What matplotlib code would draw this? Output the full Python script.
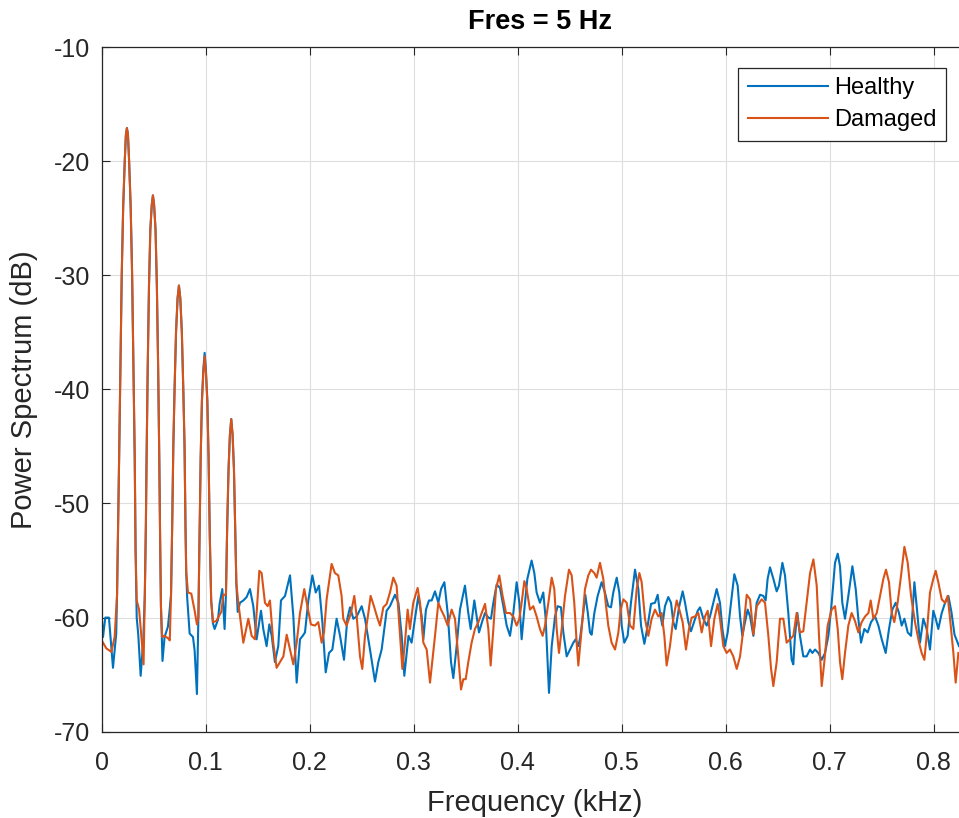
import matplotlib
matplotlib.use("Agg")
import matplotlib.pyplot as plt

plt.rcParams['font.family'] = ['Liberation Sans', 'DejaVu Sans']
plt.rcParams['axes.unicode_minus'] = False

# Healthy spectrum (kHz, dB)
healthy_khz = [
    0.0000, 0.0013, 0.0035, 0.0070, 0.0109, 0.0140,
    0.0148, 0.0158, 0.0168, 0.0180, 0.0193, 0.0207, 0.0222, 0.0233, 0.0243, 0.0253, 0.0264, 0.0279,
    0.0293, 0.0306, 0.0318, 0.0326,
    0.0337, 0.0352, 0.0375, 0.0400,
    0.0415, 0.0425, 0.0432, 0.0443, 0.0455, 0.0468, 0.0482, 0.0493, 0.0504, 0.0518, 0.0531, 0.0543,
    0.0554, 0.0562, 0.0570,
    0.0585, 0.0605, 0.0637, 0.0654,
    0.0667, 0.0678, 0.0689, 0.0701, 0.0715, 0.0730, 0.0743, 0.0756, 0.0771, 0.0785, 0.0797, 0.0806, 0.0813,
    0.0822, 0.0846, 0.0878, 0.0894, 0.0916,
    0.0930, 0.0941, 0.0952, 0.0964, 0.0978, 0.0990, 0.1002, 0.1016, 0.1028, 0.1040, 0.1053,
    0.1070, 0.1086, 0.1118, 0.1134, 0.1160, 0.1182,
    0.1195, 0.1207, 0.1220, 0.1233, 0.1246, 0.1259, 0.1272, 0.1284, 0.1295,
    0.1308, 0.1330, 0.1362, 0.1394, 0.1426, 0.1458, 0.1490, 0.1532, 0.1554, 0.1586,
    0.1612, 0.1635, 0.1666, 0.1698, 0.1724, 0.1763, 0.1811, 0.1843, 0.1875, 0.1907,
    0.1933, 0.1955, 0.1987, 0.2026, 0.2058, 0.2090, 0.2122, 0.2154, 0.2186, 0.2218,
    0.2259, 0.2292, 0.2330, 0.2362, 0.2388, 0.2420, 0.2452, 0.2500, 0.2532, 0.2580,
    0.2628, 0.2660, 0.2692, 0.2740, 0.2772, 0.2820, 0.2853, 0.2885, 0.2910, 0.2950,
    0.2980, 0.3012, 0.3045, 0.3077, 0.3093, 0.3118, 0.3147, 0.3173, 0.3205, 0.3237,
    0.3263, 0.3295, 0.3327, 0.3359, 0.3381, 0.3413, 0.3445, 0.3493, 0.3525, 0.3548,
    0.3583, 0.3605, 0.3628, 0.3660, 0.3686, 0.3718, 0.3743, 0.3766, 0.3798, 0.3830,
    0.3862, 0.3894, 0.3926, 0.3958, 0.3990, 0.4016, 0.4038, 0.4070, 0.4093, 0.4134,
    0.4160, 0.4182, 0.4214, 0.4246, 0.4269, 0.4301, 0.4327, 0.4359, 0.4384, 0.4416,
    0.4439, 0.4471, 0.4503, 0.4535, 0.4557, 0.4583, 0.4600, 0.4625, 0.4650, 0.4673,
    0.4695, 0.4711, 0.4737, 0.4769, 0.4807, 0.4839, 0.4871, 0.4897, 0.4919, 0.4952,
    0.4977, 0.5000, 0.5025, 0.5057, 0.5089, 0.5128, 0.5160, 0.5186, 0.5218, 0.5250,
    0.5282, 0.5320, 0.5346, 0.5368, 0.5391, 0.5416, 0.5448, 0.5474, 0.5496, 0.5519,
    0.5551, 0.5586, 0.5609, 0.5641, 0.5666, 0.5698, 0.5731, 0.5753, 0.5785, 0.5817,
    0.5849, 0.5881, 0.5913, 0.5945, 0.5968, 0.5993, 0.6019, 0.6051, 0.6083, 0.6115,
    0.6138, 0.6160, 0.6179, 0.6211, 0.6234, 0.6266, 0.6298, 0.6330, 0.6362, 0.6384,
    0.6403, 0.6426, 0.6458, 0.6490, 0.6512, 0.6545, 0.6570, 0.6602, 0.6634, 0.6650,
    0.6666, 0.6689, 0.6714, 0.6746, 0.6778, 0.6811, 0.6833, 0.6859, 0.6891, 0.6923,
    0.6955, 0.6987, 0.7019, 0.7051, 0.7077, 0.7099, 0.7121, 0.7147, 0.7179, 0.7218,
    0.7250, 0.7275, 0.7301, 0.7333, 0.7365, 0.7397, 0.7436, 0.7468, 0.7500, 0.7538,
    0.7570, 0.7602, 0.7634, 0.7666, 0.7692, 0.7718, 0.7750, 0.7782, 0.7814, 0.7836,
    0.7868, 0.7900, 0.7932, 0.7964, 0.7996, 0.8019, 0.8044, 0.8077, 0.8109, 0.8141,
    0.8170, 0.8200, 0.8243,
]
healthy_db = [
    -59.8, -61.7, -60.0, -60.0, -64.4, -61.4,
    -58.0, -52.0, -46.0, -38.0, -30.0, -24.0, -20.0, -17.7, -17.1, -17.7, -20.0, -24.0,
    -30.0, -38.0, -46.0, -54.0,
    -60.0, -61.5, -65.1, -62.0,
    -58.0, -52.0, -46.0, -38.0, -31.0, -26.0, -23.8, -23.0, -23.8, -26.0, -31.0, -38.0,
    -46.0, -53.0, -59.0,
    -63.8, -61.7, -60.8, -59.3,
    -58.0, -52.0, -45.0, -40.0, -35.0, -32.0, -30.9, -32.0, -35.0, -40.0, -45.0, -52.0, -56.0,
    -58.2, -61.4, -61.7, -62.9, -66.7,
    -60.0, -53.0, -46.0, -41.0, -38.2, -36.8, -38.2, -41.0, -46.0, -53.0, -58.5,
    -60.5, -61.0, -60.2, -58.8, -57.5, -61.0,
    -58.0, -52.0, -47.0, -44.0, -42.6, -44.0, -47.0, -52.0, -57.0,
    -59.5, -58.7, -58.5, -58.2, -57.5, -59.0, -61.9, -59.4, -61.0, -62.5,
    -60.6, -61.6, -63.9, -62.5, -58.5, -58.1, -56.3, -59.9, -65.7, -61.9,
    -61.6, -61.3, -58.5, -56.3, -57.8, -57.2, -60.4, -64.8, -63.1, -62.8,
    -60.1, -61.6, -63.7, -60.1, -59.1, -60.1, -59.9, -59.0, -60.1, -62.8,
    -65.6, -63.9, -62.8, -59.4, -59.0, -58.0, -58.7, -61.6, -65.1, -61.6,
    -62.2, -60.1, -58.1, -59.9, -61.9, -59.3, -58.5, -58.5, -57.7, -58.7,
    -57.5, -56.9, -59.6, -63.9, -65.3, -62.5, -59.3, -57.2, -59.6, -61.0,
    -58.5, -59.9, -61.3, -60.3, -59.6, -60.0, -60.1, -58.7, -57.1, -57.4,
    -59.0, -60.7, -61.6, -59.6, -56.9, -58.7, -61.9, -58.7, -56.6, -55.0,
    -56.1, -57.8, -58.7, -57.8, -60.1, -66.6, -62.5, -59.9, -59.0, -59.1,
    -61.3, -63.4, -62.8, -62.2, -61.9, -62.5, -61.8, -60.0, -58.0, -59.5,
    -61.3, -61.5, -59.6, -58.1, -56.9, -57.8, -59.0, -59.1, -57.8, -56.5,
    -57.8, -60.7, -62.2, -61.6, -58.7, -55.8, -57.5, -60.7, -62.3, -60.7,
    -58.8, -58.7, -58.0, -59.6, -60.7, -59.0, -58.2, -58.7, -60.4, -61.0,
    -59.1, -57.7, -58.7, -60.4, -61.2, -60.3, -59.4, -59.1, -60.1, -60.7,
    -59.9, -58.7, -57.5, -58.7, -61.0, -62.5, -61.3, -58.7, -56.2, -57.2,
    -59.9, -61.6, -60.7, -59.3, -59.9, -61.6, -58.7, -58.0, -58.1, -58.5,
    -56.6, -55.6, -56.6, -57.7, -57.2, -55.2, -56.3, -59.6, -63.7, -64.1,
    -61.6, -59.6, -61.6, -63.4, -63.4, -62.8, -63.1, -62.8, -63.1, -63.7,
    -63.1, -61.6, -58.7, -55.2, -54.4, -55.5, -58.7, -60.1, -58.1, -55.5,
    -57.5, -60.1, -62.2, -61.0, -61.3, -60.4, -59.9, -60.7, -61.9, -63.1,
    -61.0, -59.3, -58.7, -59.6, -60.7, -60.1, -61.3, -61.6, -56.9, -59.0,
    -62.2, -60.1, -61.0, -62.8, -59.4, -60.1, -61.0, -59.6, -58.7, -58.1,
    -59.5, -61.5, -62.5,
]

# Damaged spectrum (kHz, dB)
damaged_khz = [
    0.0000, 0.0045, 0.0093, 0.0125,
    0.0148, 0.0158, 0.0168, 0.0180, 0.0193, 0.0207, 0.0222, 0.0233, 0.0243, 0.0253, 0.0264, 0.0279,
    0.0293, 0.0306, 0.0318, 0.0326,
    0.0337, 0.0360, 0.0385, 0.0403,
    0.0415, 0.0425, 0.0432, 0.0443, 0.0455, 0.0468, 0.0482, 0.0493, 0.0504, 0.0518, 0.0531, 0.0543,
    0.0554, 0.0562, 0.0570,
    0.0582, 0.0600, 0.0637, 0.0655,
    0.0667, 0.0678, 0.0689, 0.0701, 0.0715, 0.0730, 0.0743, 0.0756, 0.0771, 0.0785, 0.0797, 0.0806, 0.0813,
    0.0830, 0.0862, 0.0894, 0.0916,
    0.0930, 0.0941, 0.0952, 0.0964, 0.0978, 0.0990, 0.1002, 0.1016, 0.1028, 0.1040, 0.1053,
    0.1070, 0.1102, 0.1150, 0.1170,
    0.1195, 0.1207, 0.1220, 0.1233, 0.1246, 0.1259, 0.1272, 0.1284, 0.1295,
    0.1314, 0.1362, 0.1410, 0.1442, 0.1474, 0.1516, 0.1538, 0.1570, 0.1596, 0.1618,
    0.1650, 0.1682, 0.1714, 0.1747, 0.1779, 0.1811, 0.1843, 0.1875, 0.1907, 0.1948,
    0.1980, 0.2012, 0.2051, 0.2083, 0.2115, 0.2138, 0.2163, 0.2211, 0.2243, 0.2275,
    0.2307, 0.2323, 0.2355, 0.2397, 0.2429, 0.2452, 0.2484, 0.2506, 0.2532, 0.2564,
    0.2586, 0.2618, 0.2650, 0.2676, 0.2708, 0.2740, 0.2772, 0.2804, 0.2836, 0.2858,
    0.2891, 0.2916, 0.2942, 0.2964, 0.2996, 0.3038, 0.3061, 0.3093, 0.3125, 0.3157,
    0.3205, 0.3237, 0.3263, 0.3295, 0.3327, 0.3365, 0.3397, 0.3429, 0.3455, 0.3477,
    0.3500, 0.3525, 0.3557, 0.3589, 0.3622, 0.3654, 0.3686, 0.3718, 0.3740, 0.3766,
    0.3791, 0.3823, 0.3855, 0.3888, 0.3926, 0.3958, 0.3990, 0.4016, 0.4038, 0.4064,
    0.4086, 0.4118, 0.4150, 0.4182, 0.4214, 0.4240, 0.4263, 0.4295, 0.4327, 0.4352,
    0.4375, 0.4397, 0.4423, 0.4455, 0.4493, 0.4519, 0.4544, 0.4567, 0.4583, 0.4615,
    0.4647, 0.4679, 0.4705, 0.4737, 0.4759, 0.4791, 0.4823, 0.4846, 0.4871, 0.4903,
    0.4936, 0.4968, 0.4990, 0.5016, 0.5048, 0.5080, 0.5112, 0.5144, 0.5170, 0.5192,
    0.5224, 0.5256, 0.5288, 0.5320, 0.5352, 0.5384, 0.5410, 0.5432, 0.5464, 0.5496,
    0.5529, 0.5554, 0.5586, 0.5618, 0.5647, 0.5673, 0.5705, 0.5737, 0.5769, 0.5801,
    0.5827, 0.5859, 0.5891, 0.5923, 0.5945, 0.5977, 0.6009, 0.6041, 0.6073, 0.6106,
    0.6138, 0.6170, 0.6202, 0.6234, 0.6266, 0.6298, 0.6346, 0.6378, 0.6410, 0.6436,
    0.6458, 0.6490, 0.6522, 0.6554, 0.6586, 0.6618, 0.6650, 0.6682, 0.6714, 0.6746,
    0.6778, 0.6811, 0.6843, 0.6875, 0.6897, 0.6923, 0.6948, 0.6980, 0.7019, 0.7051,
    0.7077, 0.7099, 0.7121, 0.7147, 0.7179, 0.7211, 0.7243, 0.7275, 0.7307, 0.7340,
    0.7372, 0.7394, 0.7420, 0.7452, 0.7484, 0.7516, 0.7541, 0.7570, 0.7596, 0.7621,
    0.7653, 0.7686, 0.7718, 0.7750, 0.7782, 0.7820, 0.7859, 0.7884, 0.7910, 0.7932,
    0.7964, 0.7996, 0.8019, 0.8044, 0.8077, 0.8109, 0.8134, 0.8157, 0.8189, 0.8211,
    0.8237,
]
damaged_db = [
    -62.0, -62.7, -63.0, -61.7,
    -58.0, -52.0, -46.0, -38.0, -30.0, -24.0, -20.0, -17.7, -17.1, -17.7, -20.0, -24.0,
    -30.0, -38.0, -46.0, -54.0,
    -58.5, -59.3, -62.0, -64.1,
    -58.0, -52.0, -46.0, -38.0, -31.0, -26.0, -23.8, -23.0, -23.8, -26.0, -31.0, -38.0,
    -46.0, -53.0, -59.0,
    -61.7, -61.6, -61.8, -62.0,
    -58.0, -52.0, -45.0, -40.0, -35.0, -32.0, -30.9, -32.0, -35.0, -40.0, -45.0, -52.0, -56.0,
    -57.8, -57.9, -59.4, -60.6,
    -60.0, -53.0, -46.0, -41.0, -38.5, -37.1, -38.5, -41.0, -46.0, -53.0, -58.5,
    -60.4, -60.3, -59.5, -58.0,
    -58.0, -52.0, -47.0, -44.0, -42.6, -44.0, -47.0, -52.0, -57.0,
    -58.7, -62.2, -60.1, -61.6, -61.9, -55.9, -56.1, -58.7, -59.0, -58.5,
    -62.2, -64.4, -63.9, -63.4, -61.5, -62.8, -64.1, -62.2, -59.6, -57.5,
    -59.1, -60.6, -60.7, -60.4, -62.2, -61.3, -58.4, -55.3, -56.1, -56.3,
    -58.1, -60.1, -60.7, -59.6, -58.1, -59.9, -63.4, -64.5, -61.6, -59.6,
    -58.1, -59.0, -60.0, -60.7, -59.1, -58.8, -57.8, -56.5, -57.2, -60.1,
    -64.5, -62.2, -59.3, -61.0, -58.7, -57.4, -58.7, -62.2, -62.8, -65.7,
    -61.6, -58.7, -59.3, -59.9, -60.7, -59.3, -60.1, -63.4, -66.3, -65.4,
    -65.4, -63.9, -62.2, -61.0, -60.4, -59.6, -58.8, -61.0, -64.2, -61.0,
    -57.5, -56.3, -58.1, -59.6, -59.6, -59.9, -60.7, -60.1, -58.7, -56.8,
    -57.5, -59.3, -59.0, -59.9, -61.0, -61.6, -60.7, -58.7, -56.5, -57.5,
    -61.0, -63.1, -61.0, -58.1, -55.8, -56.3, -58.7, -62.2, -64.2, -61.0,
    -57.5, -56.3, -55.8, -56.1, -56.5, -55.2, -56.6, -58.7, -60.7, -62.2,
    -62.8, -61.3, -59.3, -58.4, -58.7, -60.7, -61.0, -57.5, -56.1, -56.9,
    -60.1, -61.6, -60.1, -59.3, -59.9, -59.6, -61.6, -64.2, -62.5, -60.1,
    -58.5, -59.3, -60.4, -62.8, -61.0, -60.0, -59.9, -59.6, -61.3, -59.9,
    -59.4, -62.5, -60.1, -58.8, -60.1, -62.5, -63.1, -62.8, -63.4, -64.5,
    -63.4, -61.0, -58.0, -58.4, -61.5, -59.0, -58.4, -58.7, -61.6, -64.5,
    -66.0, -63.9, -60.1, -60.1, -62.2, -61.9, -61.6, -59.6, -61.3, -61.2,
    -58.7, -56.1, -54.9, -57.2, -61.6, -66.0, -63.9, -60.7, -59.3, -59.0,
    -61.0, -63.9, -65.4, -63.1, -60.7, -59.6, -60.3, -61.3, -60.4, -59.9,
    -59.6, -58.5, -60.1, -59.6, -58.1, -56.6, -55.8, -56.9, -59.6, -60.4,
    -58.7, -56.3, -53.8, -55.2, -58.1, -60.4, -62.2, -63.1, -63.7, -61.6,
    -57.8, -56.6, -55.9, -56.9, -58.4, -58.7, -58.1, -60.1, -63.1, -65.7,
    -63.1,
]

x_ticks = [0, 0.1, 0.2, 0.3, 0.4, 0.5, 0.6, 0.7, 0.8]
x_labels = ['0', '0.1', '0.2', '0.3', '0.4', '0.5', '0.6', '0.7', '0.8']
y_ticks = [-70, -60, -50, -40, -30, -20, -10]

fig = plt.figure(figsize=(9.59, 8.18), dpi=100)
ax = fig.add_axes([0.106, 0.1055, 0.894, 0.837])

ax.plot(healthy_khz, healthy_db, color='#0072BD', lw=1.5, label='Healthy')
ax.plot(damaged_khz, damaged_db, color='#D95319', lw=1.5, label='Damaged')

ax.set_xlim(0, 0.8243)
ax.set_ylim(-70, -10)
ax.set_xticks(x_ticks)
ax.set_xticklabels(x_labels)
ax.set_yticks(y_ticks)

ax.grid(True, color='#dedede', lw=0.8)
ax.set_axisbelow(True)
for s in ['left', 'bottom', 'top']:
    ax.spines[s].set_color('#262626')
    ax.spines[s].set_linewidth(0.9)
ax.spines['right'].set_visible(False)
ax.tick_params(direction='in', top=True, right=False, length=6, width=0.8,
               colors='#262626', labelsize=18)
ax.tick_params(axis='x', pad=14)
ax.tick_params(axis='y', pad=8)

ax.set_xlabel('Frequency (kHz)', fontsize=21, color='#262626')
ax.xaxis.set_label_coords(0.505, -0.084)
ax.set_ylabel('Power Spectrum (dB)', fontsize=21, color='#262626')
ax.yaxis.set_label_coords(-0.074, 0.5)
ax.set_title('Fres = 5 Hz', fontsize=19.5, fontweight='bold', x=0.511, pad=13)

leg = ax.legend(loc='upper right', bbox_to_anchor=(0.9864, 0.9169),
                bbox_transform=fig.transFigure, borderaxespad=0,
                fancybox=False, framealpha=1, edgecolor='#262626',
                fontsize=17, handlelength=3.4, handletextpad=0.25,
                borderpad=0.4, labelspacing=0.42)
leg.get_frame().set_linewidth(0.9)

fig.savefig('out.png', dpi=100)
print("Saved: out.png")
